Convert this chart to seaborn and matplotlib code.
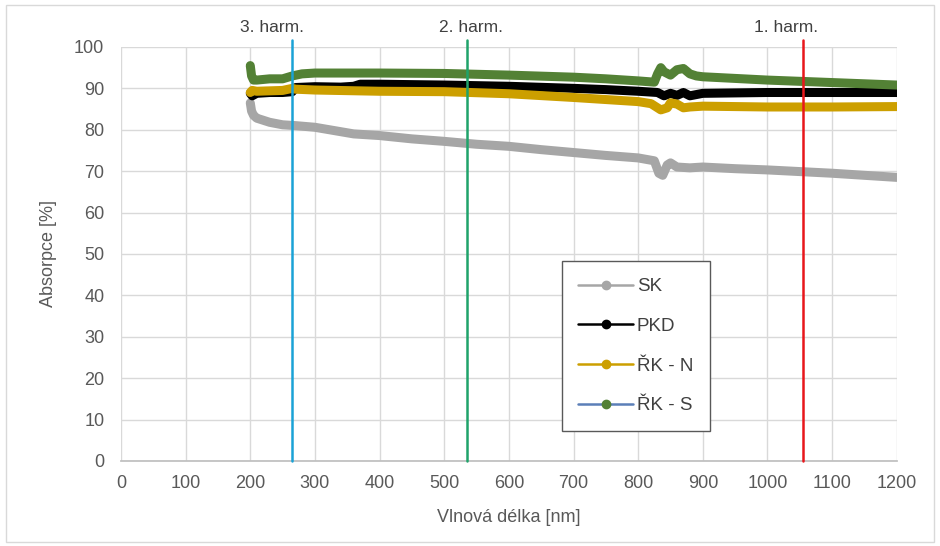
import numpy as np
import pandas as pd
import seaborn as sns
import matplotlib.pyplot as plt
from matplotlib.lines import Line2D
from matplotlib.patches import Rectangle

# values (wavelength in nm, absorption in %)
wl_sk = [200, 202, 205, 210, 230, 250, 270, 300, 330, 360, 400, 450, 500, 550, 600, 650, 700,
         750, 800, 825, 832, 838, 845, 850, 860, 880, 900, 950, 1000, 1050, 1100, 1150, 1200]
abs_sk = [86.5, 84.5, 83.5, 82.8, 81.8, 81.2, 81.0, 80.6, 79.8, 79.0, 78.6, 77.8, 77.2, 76.5, 76.0, 75.2, 74.5,
          73.8, 73.2, 72.5, 69.5, 69.0, 71.5, 72.0, 71.0, 70.8, 71.0, 70.6, 70.3, 69.9, 69.5, 69.0, 68.5]

wl_pkd = [200, 203, 210, 230, 250, 265, 270, 300, 340, 360, 370, 400, 500, 600, 700, 750, 800,
          830, 840, 850, 860, 870, 880, 900, 1000, 1100, 1200]
abs_pkd = [88.8, 88.2, 88.8, 89.0, 89.0, 89.2, 90.2, 90.4, 90.3, 90.5, 91.0, 91.0, 90.8, 90.5, 90.0, 89.7, 89.3,
           89.0, 88.2, 88.8, 88.3, 89.0, 88.2, 88.8, 89.0, 89.0, 89.0]

wl_rkn = [200, 203, 210, 250, 265, 270, 300, 400, 500, 600, 700, 750, 800, 820, 835, 845, 850,
          860, 870, 880, 900, 1000, 1100, 1200]
abs_rkn = [89.0, 89.5, 89.3, 89.5, 90.0, 89.8, 89.6, 89.3, 89.2, 88.7, 87.8, 87.3, 86.8, 86.3, 84.8, 85.3, 86.5,
           86.2, 85.3, 85.5, 85.7, 85.5, 85.5, 85.6]

wl_rks = [200, 202, 205, 210, 230, 250, 265, 280, 300, 400, 500, 600, 700, 750, 800, 825, 830, 835,
          840, 850, 860, 870, 880, 890, 900, 1000, 1100, 1200]
abs_rks = [95.5, 93.0, 92.0, 92.0, 92.3, 92.3, 93.0, 93.5, 93.7, 93.7, 93.6, 93.2, 92.7, 92.3, 91.8, 91.5, 93.5, 95.0,
           94.0, 93.2, 94.5, 94.8, 93.5, 93.0, 92.8, 92.0, 91.4, 90.8]

series_names = ['SK', 'PKD', 'ŘK - N', 'ŘK - S']
series_colors = ['#A6A6A6', '#000000', '#CC9F00', '#538135']
legend_line_colors = ['#A6A6A6', '#000000', '#CC9F00', '#5B7FB8']

harm_pos = [264, 536, 1055]
harm_labels = ['3. harm.', '2. harm.', '1. harm.']
harm_label_x = [233, 541, 1028]
harm_colors = ['#1AA2D6', '#1FA36A', '#E8161B']

frames = []
for name, wl, val in zip(series_names, [wl_sk, wl_pkd, wl_rkn, wl_rks],
                         [abs_sk, abs_pkd, abs_rkn, abs_rks]):
    frames.append(pd.DataFrame({'wl': wl, 'absorb': val, 'serie': name}))
df = pd.concat(frames, ignore_index=True)

sns.set_theme(style='whitegrid')
plt.rcParams['font.family'] = ['Liberation Sans', 'DejaVu Sans']

fig = plt.figure(figsize=(9.4, 5.46), dpi=100)
ax = fig.add_axes([0.1287, 0.1557, 0.8253, 0.7583])

for name, col in zip(series_names, series_colors):
    sns.lineplot(data=df[df['serie'] == name], x='wl', y='absorb', color=col,
                 linewidth=6.5, sort=False, ax=ax, legend=False,
                 solid_capstyle='round', solid_joinstyle='round')

for x, col in zip(harm_pos, harm_colors):
    ax.axvline(x, ymin=0, ymax=1.017, color=col, linewidth=1.8, clip_on=False, zorder=5)
for x, lab in zip(harm_label_x, harm_labels):
    ax.text(x, 1.046, lab, transform=ax.get_xaxis_transform(), ha='center', va='center',
            fontsize=12.5, color='#404040')

ax.set_xlim(0, 1200)
ax.set_ylim(0, 100)
ax.set_xticks(np.arange(0, 1201, 100))
ax.set_yticks(np.arange(0, 101, 10))
ax.grid(True, color='#D9D9D9', linewidth=1)
for side in ['top', 'right', 'left']:
    ax.spines[side].set_visible(False)
ax.spines['bottom'].set_color('#BFBFBF')
ax.tick_params(axis='both', length=0, labelsize=13, labelcolor='#595959')
ax.tick_params(axis='x', pad=10)
ax.tick_params(axis='y', pad=12)
ax.set_xlabel('Vlnová délka [nm]', fontsize=13, color='#595959', labelpad=12)
ax.set_ylabel('Absorpce [%]', fontsize=13, color='#595959', labelpad=12)

handles = [Line2D([0], [0], color=lc, linewidth=1.8, marker='o', markersize=6,
                  markerfacecolor=mc, markeredgecolor=mc)
           for lc, mc in zip(legend_line_colors, series_colors)]
leg = ax.legend(handles, series_names, loc='lower left', bbox_to_anchor=(0.568, 0.072),
                fontsize=13.5, labelspacing=1.2, handlelength=2.9, handletextpad=0.2,
                borderpad=0.9, borderaxespad=0, fancybox=False, framealpha=1,
                edgecolor='#595959')
leg.get_frame().set_linewidth(1.0)
for t in leg.get_texts():
    t.set_color('#404040')

fig.patches.append(Rectangle((0.006, 0.008), 0.988, 0.983, transform=fig.transFigure,
                             fill=False, edgecolor='#D9D9D9', linewidth=1))

fig.savefig('out.png', dpi=100)
